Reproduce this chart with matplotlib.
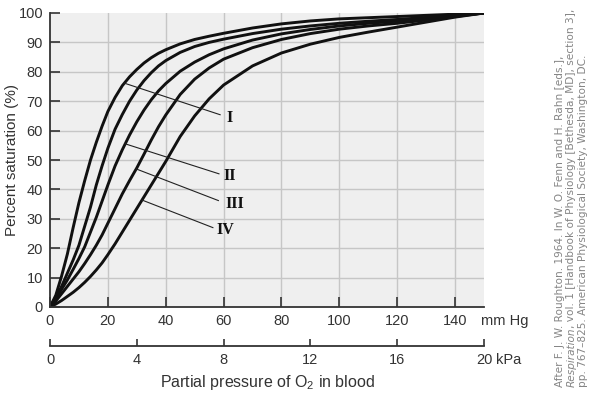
import numpy as np
import matplotlib
matplotlib.use("Agg")
import matplotlib.pyplot as plt

plt.rcParams["font.family"] = ["Liberation Sans", "DejaVu Sans"]
plt.rcParams["mathtext.fontset"] = "custom"
plt.rcParams["mathtext.rm"] = "Liberation Sans"
plt.rcParams["mathtext.it"] = "Liberation Sans:italic"

# ---- data ----
po2_mmhg = [0, 2, 4, 6, 8, 10, 12, 14, 16, 18, 20, 22.5, 25, 27.5, 30, 32.5, 35, 37.5, 40,
            45, 50, 55, 60, 70, 80, 90, 100, 110, 120, 130, 140, 150]
curve_1 = [0, 4, 10.5, 18, 27, 35.5, 43, 50, 56, 61.5, 66.5, 71.3, 75.3, 78.3, 80.8, 83, 84.8,
           86.3, 87.5, 89.5, 91, 92.1, 93.1, 94.9, 96.3, 97.3, 98, 98.4, 98.8, 99.2, 99.6, 100]
curve_2 = [0, 3.2, 7, 11.5, 16, 21, 27.5, 34, 41.5, 48, 54, 60.5, 65.5, 70, 73.8, 77, 79.7,
           82, 83.8, 86.6, 88.6, 90, 91.1, 93, 94.5, 95.6, 96.5, 97.2, 97.8, 98.5, 99.2, 100]
curve_3 = [0, 2.8, 6, 9.2, 12.8, 16.5, 20.5, 25.5, 30.5, 36, 41.5, 48, 53.5, 58.5, 63, 67, 70.5,
           73.5, 76, 80.2, 83.3, 85.8, 87.8, 90.8, 92.9, 94.4, 95.6, 96.5, 97.2, 98, 99, 100]
curve_4 = [0, 2, 4.5, 7, 9.5, 12, 14.8, 17.8, 21, 24.5, 28.5, 33.5, 38.5, 43, 47.3, 52, 56.8,
           61.3, 65.3, 72.3, 77.5, 81.3, 84.3, 88.2, 91, 93, 94.5, 95.6, 96.5, 97.6, 98.8, 100]
curve_5 = [0, 1, 2.2, 3.6, 5, 6.6, 8.4, 10.4, 12.6, 15, 17.8, 21.5, 25.5, 29.5, 33.5, 37.5, 41.5,
           45.5, 49.5, 58, 65, 70.8, 75.5, 82, 86.4, 89.4, 91.7, 93.5, 95.2, 96.9, 98.6, 100]
curves = [curve_1, curve_2, curve_3, curve_4, curve_5]

mmhg_ticks = [0, 20, 40, 60, 80, 100, 120, 140]
kpa_ticks = [0, 4, 8, 12, 16, 20]
sat_ticks = [0, 10, 20, 30, 40, 50, 60, 70, 80, 90, 100]

labels = ["I", "II", "III", "IV"]
label_curve = [0, 2, 3, 4]          # which curve each label points to
label_start_x = [25.7, 26.0, 29.8, 31.8]
label_end = [(58.8, 65.4), (58.4, 45.3), (58.2, 36.2), (56.3, 27.0)]
label_text_pos = [(61.0, 64.3), (60.0, 44.4), (60.5, 35.1), (57.5, 26.2)]

MMHG_PER_KPA = 7.5

# ---- figure ----
fig = plt.figure(figsize=(6.0, 3.97), dpi=100)
ax = fig.add_axes([50 / 600, 90 / 397, 434 / 600, 294 / 397])
ax.set_facecolor("#efefef")
ax.set_xlim(0, 150)
ax.set_ylim(0, 100)

for v in mmhg_ticks[1:]:
    ax.axvline(v, color="#c6c6c6", lw=1.0, zorder=1)
for v in sat_ticks[1:-1]:
    ax.axhline(v, color="#c6c6c6", lw=1.0, zorder=1)

x = np.array(po2_mmhg, dtype=float)
for c in curves:
    ax.plot(x, c, color="#111111", lw=2.1, zorder=3, solid_joinstyle="round",
            solid_capstyle="round")

for lab, ci, sx, (ex, ey), (tx, ty) in zip(labels, label_curve, label_start_x,
                                           label_end, label_text_pos):
    sy = np.interp(sx, x, curves[ci])
    ax.plot([sx, ex], [sy, ey], color="#222222", lw=0.8, zorder=4)
    ax.text(tx, ty, lab, family=["Liberation Serif"], fontweight="bold",
            fontsize=11.5, ha="left", va="center", color="#111111", zorder=5)

txt_color = "#333333"
for s in ["top", "right"]:
    ax.spines[s].set_visible(False)
for s in ["left", "bottom"]:
    ax.spines[s].set_color("#333333")
    ax.spines[s].set_linewidth(1.3)
    ax.spines[s].set_zorder(6)

ax.set_xticks(mmhg_ticks)
ax.set_yticks(sat_ticks)
ax.tick_params(axis="both", direction="in", length=7, width=1.2, color="#333333",
               labelsize=10.5, labelcolor=txt_color)
ax.tick_params(axis="x", pad=5)
ax.tick_params(axis="y", pad=5)
ax.set_ylabel("Percent saturation (%)", fontsize=11, color=txt_color)
ax.yaxis.set_label_coords((19 - 50) / 434, 0.5)

ax.annotate("mm Hg", xy=(149.0, 0), xycoords=("data", "axes fraction"),
            xytext=(0, -5), textcoords="offset points", fontsize=10.5,
            color=txt_color, ha="left", va="top")

# kPa axis
KPA_AXIS_Y = -0.134
sec = ax.secondary_xaxis(KPA_AXIS_Y, functions=(lambda v: v / MMHG_PER_KPA,
                                                lambda v: v * MMHG_PER_KPA))
sec.set_xticks(kpa_ticks)
sec.tick_params(direction="in", length=5, width=1.2, color="#333333",
                labelsize=10.5, labelcolor=txt_color, pad=5)
sec.spines["bottom"].set_color("#333333")
sec.spines["bottom"].set_linewidth(1.3)
sec.set_xlabel("Partial pressure of O$_2$ in blood", fontsize=11.5,
               color=txt_color, labelpad=4)
ax.annotate("kPa", xy=(154.3, KPA_AXIS_Y), xycoords=("data", "axes fraction"),
            xytext=(0, -5), textcoords="offset points", fontsize=10.5,
            color=txt_color, ha="left", va="top", annotation_clip=False)

# credit
credit_color = "#858585"
fs = 7.6
fam = ["DejaVu Sans"]
cols = [560 / 600, 571.5 / 600, 583 / 600]
fig.text(cols[0], 10 / 397, "After F. J. W. Roughton. 1964. In W. O. Fenn and H. Rahn [eds.],",
         rotation=90, ha="center", va="bottom", fontsize=fs, color=credit_color, family=fam)
t_it = fig.text(cols[1], 10 / 397, "Respiration", rotation=90, ha="center", va="bottom",
                fontsize=fs, color=credit_color, family=fam, style="italic")
fig.text(cols[2], 10 / 397, "pp. 767\u2013825. American Physiological Society, Washington, DC.",
         rotation=90, ha="center", va="bottom", fontsize=fs, color=credit_color, family=fam)
fig.canvas.draw()
bb = t_it.get_window_extent(fig.canvas.get_renderer())
fig.text(cols[1], bb.y1 / fig.bbox.height,
         ", vol. 1 [Handbook of Physiology [Bethesda, MD], section 3],",
         rotation=90, ha="center", va="bottom", fontsize=fs, color=credit_color, family=fam)

fig.savefig("out.png", dpi=100)
